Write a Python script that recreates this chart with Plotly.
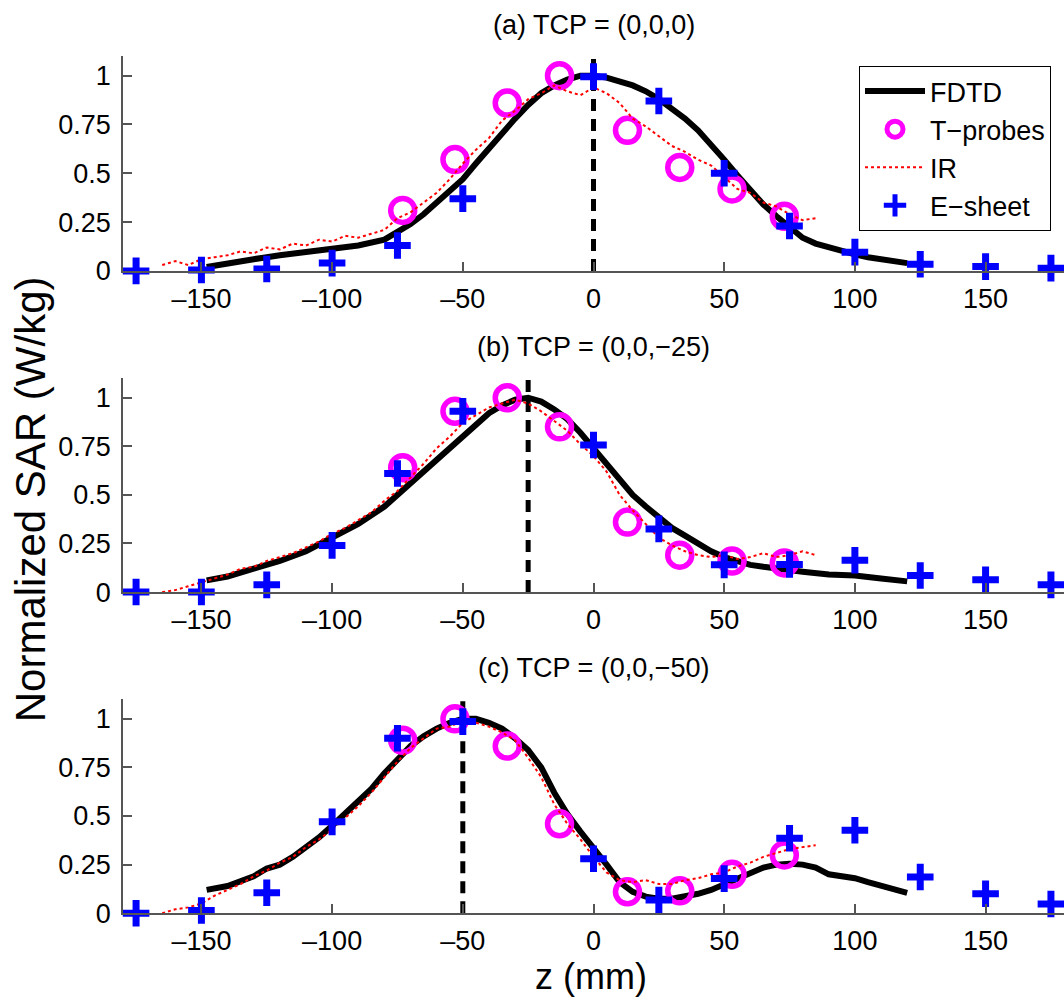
import plotly.graph_objects as go

# ---------------- data ----------------
panel_titles = ["(a) TCP = (0,0,0)", "(b) TCP = (0,0,\u221225)", "(c) TCP = (0,0,\u221250)"]
tcp_z = [0, -25, -50]

# FDTD
fdtd_z_a = [-148, -140, -130, -120, -110, -100, -90, -80, -75, -70, -65, -60, -55, -50, -45, -40, -35, -30, -25, -20, -15, -10, -5, 0, 5, 10, 15, 20, 25, 30, 35, 40, 45, 50, 55, 60, 65, 70, 75, 80, 85, 90, 95, 100, 105, 110, 115, 120]
fdtd_a = [0.02, 0.04, 0.06, 0.08, 0.095, 0.11, 0.13, 0.16, 0.20, 0.24, 0.29, 0.35, 0.41, 0.47, 0.55, 0.63, 0.71, 0.78, 0.85, 0.91, 0.95, 0.98, 1.0, 1.0, 0.99, 0.97, 0.95, 0.92, 0.88, 0.83, 0.78, 0.72, 0.65, 0.57, 0.49, 0.41, 0.34, 0.28, 0.22, 0.17, 0.14, 0.12, 0.10, 0.085, 0.07, 0.06, 0.05, 0.04]

fdtd_z_b = [-148, -140, -130, -125, -120, -110, -100, -90, -80, -75, -70, -60, -50, -45, -40, -35, -30, -25, -20, -15, -10, -5, 0, 5, 10, 15, 20, 25, 30, 35, 40, 45, 50, 55, 60, 65, 70, 75, 80, 90, 100, 110, 120]
fdtd_b = [0.06, 0.08, 0.12, 0.14, 0.16, 0.21, 0.28, 0.35, 0.44, 0.50, 0.56, 0.68, 0.80, 0.87, 0.92, 0.96, 0.99, 1.0, 0.98, 0.94, 0.89, 0.82, 0.74, 0.65, 0.57, 0.50, 0.44, 0.38, 0.33, 0.29, 0.25, 0.21, 0.18, 0.16, 0.14, 0.13, 0.12, 0.11, 0.105, 0.09, 0.085, 0.07, 0.055]

fdtd_z_c = [-148, -140, -130, -125, -120, -115, -110, -105, -100, -95, -90, -85, -80, -75, -70, -65, -60, -55, -50, -45, -40, -35, -30, -25, -20, -15, -10, -5, 0, 5, 10, 15, 20, 25, 30, 35, 40, 45, 50, 55, 60, 65, 70, 75, 80, 85, 90, 95, 100, 105, 110, 115, 120]
fdtd_c = [0.12, 0.14, 0.19, 0.23, 0.25, 0.29, 0.34, 0.39, 0.45, 0.51, 0.57, 0.64, 0.72, 0.79, 0.86, 0.91, 0.95, 0.98, 1.0, 1.0, 0.98, 0.95, 0.90, 0.84, 0.75, 0.62, 0.51, 0.42, 0.34, 0.25, 0.16, 0.11, 0.085, 0.075, 0.075, 0.085, 0.10, 0.12, 0.15, 0.18, 0.21, 0.235, 0.25, 0.255, 0.25, 0.235, 0.20, 0.19, 0.18, 0.16, 0.14, 0.12, 0.105]

# T-probes
tprobe_z = [-73, -53, -33, -13, 13, 33, 53, 73]
tprobe_a = [0.31, 0.57, 0.86, 1.0, 0.72, 0.53, 0.42, 0.28]
tprobe_b = [0.64, 0.93, 1.0, 0.85, 0.36, 0.19, 0.16, 0.15]
tprobe_c = [0.89, 1.0, 0.86, 0.46, 0.11, 0.115, 0.20, 0.30]

# IR
ir_z = [-165, -160, -155, -150, -145, -140, -135, -130, -125, -120, -115, -110, -105, -100, -95, -90, -85, -80, -75, -70, -65, -60, -55, -50, -45, -40, -35, -30, -25, -20, -15, -10, -5, 0, 5, 10, 15, 20, 25, 30, 35, 40, 45, 50, 55, 60, 65, 70, 75, 80, 85]
ir_a = [0.03, 0.05, 0.03, 0.06, 0.07, 0.08, 0.10, 0.09, 0.12, 0.11, 0.14, 0.13, 0.16, 0.15, 0.18, 0.17, 0.19, 0.21, 0.27, 0.30, 0.35, 0.40, 0.47, 0.55, 0.62, 0.68, 0.77, 0.82, 0.88, 0.91, 0.95, 0.92, 0.90, 0.94, 0.91, 0.86, 0.78, 0.74, 0.69, 0.64, 0.61, 0.57, 0.54, 0.48, 0.42, 0.40, 0.35, 0.33, 0.29, 0.26, 0.27]
ir_b = [0.00, 0.01, 0.03, 0.05, 0.07, 0.09, 0.12, 0.13, 0.16, 0.18, 0.20, 0.23, 0.26, 0.30, 0.33, 0.37, 0.41, 0.47, 0.52, 0.59, 0.66, 0.74, 0.80, 0.87, 0.91, 0.95, 0.97, 0.99, 0.97, 0.93, 0.88, 0.83, 0.76, 0.70, 0.62, 0.50, 0.42, 0.35, 0.28, 0.24, 0.21, 0.19, 0.18, 0.19, 0.17, 0.18, 0.20, 0.18, 0.19, 0.21, 0.19]
ir_c = [0.00, 0.02, 0.03, 0.05, 0.09, 0.12, 0.15, 0.19, 0.22, 0.26, 0.29, 0.34, 0.38, 0.43, 0.49, 0.55, 0.62, 0.70, 0.78, 0.85, 0.90, 0.95, 0.96, 0.99, 0.98, 0.96, 0.93, 0.89, 0.80, 0.70, 0.56, 0.46, 0.38, 0.29, 0.21, 0.17, 0.16, 0.17, 0.15, 0.15, 0.17, 0.18, 0.20, 0.21, 0.24, 0.26, 0.29, 0.31, 0.33, 0.34, 0.35]

# E-sheet
esheet_z_a = [-175, -150, -125, -100, -75, -50, 0, 25, 50, 75, 100, 125, 150, 175]
esheet_a = [0.0, 0.005, 0.01, 0.04, 0.13, 0.37, 0.995, 0.87, 0.50, 0.23, 0.096, 0.034, 0.022, 0.014]
esheet_z_b = [-175, -150, -125, -100, -75, -50, 0, 25, 50, 75, 100, 125, 150, 175]
esheet_b = [0.0, 0.0, 0.037, 0.24, 0.61, 0.93, 0.757, 0.325, 0.14, 0.142, 0.164, 0.085, 0.063, 0.037]
esheet_z_c = [-175, -150, -125, -100, -75, -50, 0, 25, 50, 75, 100, 125, 150, 175]
esheet_c = [0.0, 0.014, 0.105, 0.47, 0.90, 0.986, 0.28, 0.068, 0.178, 0.386, 0.427, 0.186, 0.10, 0.047]

x_tickvals = [-150, -100, -50, 0, 50, 100, 150]
x_ticktext = ["\u2013150", "\u2013100", "\u201350", "0", "50", "100", "150"]
y_tickvals = [0, 0.25, 0.5, 0.75, 1]
y_ticktext = ["0", "0.25", "0.5", "0.75", "1"]
x_range = [-180, 180]
y_range = [0, 1.1]

panels = [
    (fdtd_z_a, fdtd_a, tprobe_a, ir_a, esheet_z_a, esheet_a),
    (fdtd_z_b, fdtd_b, tprobe_b, ir_b, esheet_z_b, esheet_b),
    (fdtd_z_c, fdtd_c, tprobe_c, ir_c, esheet_z_c, esheet_c),
]

# ---------------- layout ----------------
W, H = 1064, 1008
FONT = "Arial, 'Liberation Sans', Helvetica, sans-serif"
y_domains = [[1 - 275 / H, 1 - 57 / H], [1 - 601 / H, 1 - 384 / H], [1 - 927 / H, 1 - 710 / H]]
title_y = [1 - 25 / H, 1 - 352 / H, 1 - 678 / H]
AXC = "#555555"

fig = go.Figure()
for i, (fz, fv, tv, irv, ez, ev) in enumerate(panels):
    xa = "x" if i == 0 else f"x{i+1}"
    ya = "y" if i == 0 else f"y{i+1}"
    show = i == 0
    fig.add_trace(go.Scatter(x=[tcp_z[i], tcp_z[i]], y=y_range, mode="lines",
                             line=dict(color="black", width=5, dash="12px,8px"),
                             showlegend=False, hoverinfo="skip", xaxis=xa, yaxis=ya))
    fig.add_trace(go.Scatter(x=fz, y=fv, mode="lines", name="FDTD",
                             line=dict(color="black", width=6),
                             showlegend=show, xaxis=xa, yaxis=ya))
    fig.add_trace(go.Scatter(x=tprobe_z, y=tv, mode="markers", name="T\u2212probes",
                             marker=dict(symbol="circle-open", size=24, color="#FF00FF",
                                         line=dict(color="#FF00FF", width=5.5)),
                             cliponaxis=False, showlegend=show, xaxis=xa, yaxis=ya))
    fig.add_trace(go.Scatter(x=ir_z, y=irv, mode="lines", name="IR",
                             line=dict(color="#FF0000", width=2, dash="dot"),
                             showlegend=show, xaxis=xa, yaxis=ya))
    fig.add_trace(go.Scatter(x=ez, y=ev, mode="markers", name="E\u2212sheet",
                             marker=dict(symbol="cross-thin", size=19, color="#0000FF",
                                         line=dict(color="#0000FF", width=7)),
                             cliponaxis=False, showlegend=show, xaxis=xa, yaxis=ya))

    axis_x = dict(domain=[0, 1], range=x_range, tickvals=x_tickvals, ticktext=x_ticktext,
                  ticks="inside", ticklen=9, tickwidth=1.5, tickcolor=AXC,
                  showline=True, linecolor=AXC, linewidth=1.5, showgrid=False, zeroline=False,
                  tickfont=dict(family=FONT, size=27, color="black"), anchor=ya,
                  ticklabelstandoff=3)
    axis_y = dict(domain=y_domains[i], range=y_range, tickvals=y_tickvals, ticktext=y_ticktext,
                  ticks="inside", ticklen=9, tickwidth=1.5, tickcolor=AXC,
                  showline=True, linecolor=AXC, linewidth=1.5, showgrid=False, zeroline=False,
                  tickfont=dict(family=FONT, size=27, color="black"), anchor=xa,
                  ticklabelstandoff=5)
    key = "" if i == 0 else str(i + 1)
    fig.layout["xaxis" + key] = axis_x
    fig.layout["yaxis" + key] = axis_y

annotations = []
for i, t in enumerate(panel_titles):
    annotations.append(dict(text=t, x=0.5, y=title_y[i], xref="paper", yref="paper",
                            xanchor="center", yanchor="middle", showarrow=False,
                            font=dict(family=FONT, size=27, color="black")))
annotations.append(dict(text="Normalized SAR (W/kg)", x=-0.098, y=1 - 507 / H, xref="paper", yref="paper",
                        xanchor="center", yanchor="middle", textangle=-90, showarrow=False,
                        font=dict(family=FONT, size=42, color="black")))
annotations.append(dict(text="z (mm)", x=0.497, y=1 - 991 / H, xref="paper", yref="paper",
                        xanchor="center", yanchor="middle", showarrow=False,
                        font=dict(family=FONT, size=36, color="black")))

fig.update_layout(
    width=W, height=H,
    margin=dict(l=123, r=0, t=0, b=0),
    paper_bgcolor="white", plot_bgcolor="white",
    annotations=annotations,
    legend=dict(x=(1051 - 123) / 941, y=1 - 67 / H, xref="paper", yref="paper",
                xanchor="right", yanchor="top",
                bordercolor="black", borderwidth=1, bgcolor="white",
                font=dict(family=FONT, size=27, color="black"),
                tracegroupgap=0, itemwidth=60),
    showlegend=True,
)

fig.write_html("out.html")
